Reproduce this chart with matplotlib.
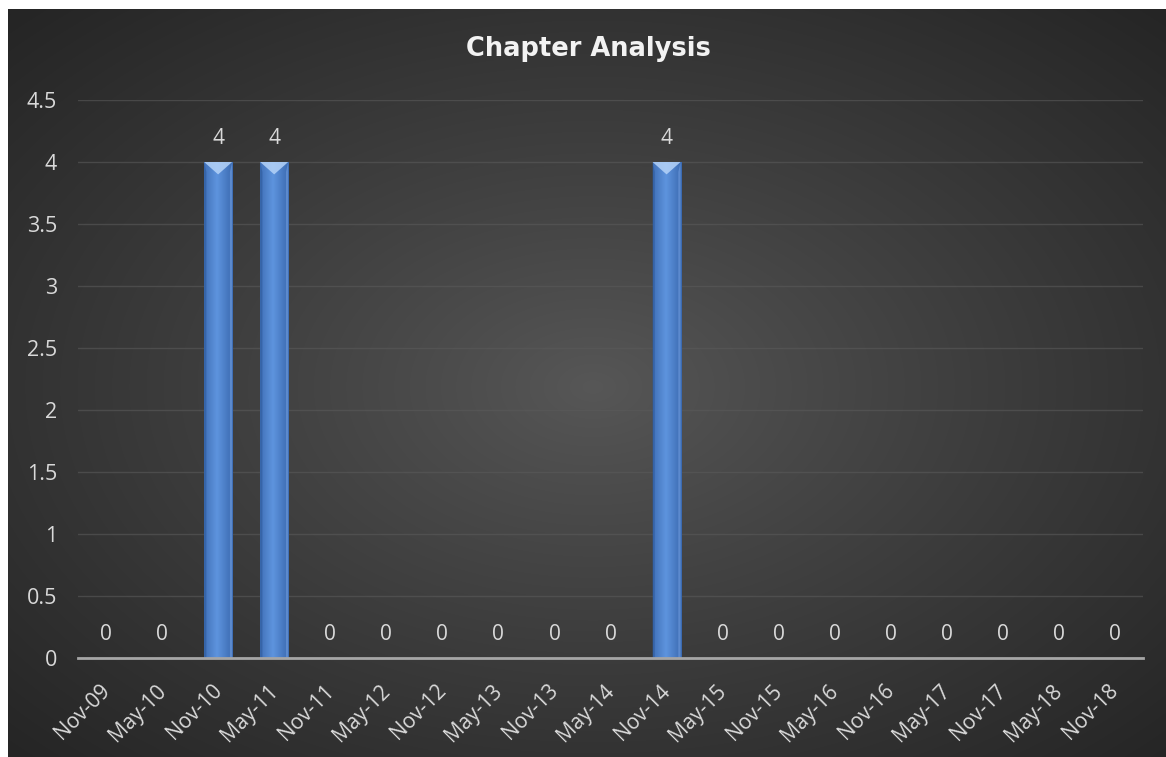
import numpy as np
import matplotlib
matplotlib.use("Agg")
import matplotlib.pyplot as plt
from matplotlib.patches import Polygon

# Chart data
categories = ["Nov-09", "May-10", "Nov-10", "May-11", "Nov-11", "May-12", "Nov-12",
              "May-13", "Nov-13", "May-14", "Nov-14", "May-15", "Nov-15", "May-16",
              "Nov-16", "May-17", "Nov-17", "May-18", "Nov-18"]
chapters = [0, 0, 4, 4, 0, 0, 0, 0, 0, 0, 4, 0, 0, 0, 0, 0, 0, 0, 0]
y_ticks = [0, 0.5, 1, 1.5, 2, 2.5, 3, 3.5, 4, 4.5]
title = "Chapter Analysis"

W, H = 1166, 757
fig = plt.figure(figsize=(W / 100, H / 100), dpi=100, facecolor="white")

# Dark panel with a soft radial glow
bg = fig.add_axes([8 / W, -0.01, 1 - 8 / W + 0.01, (H - 9) / H + 0.01])
bg.set_axis_off()
nx, ny = 600, 400
xx, yy = np.meshgrid(np.linspace(-1, 1, nx), np.linspace(-1, 1, ny))
r = np.sqrt(xx ** 2 + yy ** 2)
t = np.clip(r / 1.4, 0, 1) ** 0.9
inner = np.array([0x57, 0x57, 0x57]) / 255
outer = np.array([0x25, 0x25, 0x25]) / 255
img = inner[None, None, :] * (1 - t[..., None]) + outer[None, None, :] * t[..., None]
bg.imshow(img, aspect="auto", extent=[0, 1, 0, 1], interpolation="bilinear")
bg.set_xlim(0, 1)
bg.set_ylim(0, 1)

ax = fig.add_axes([78 / W, (H - 658) / H, (1143 - 78) / W, (658 - 100) / H])
ax.patch.set_alpha(0)

text_color = "#d9d9d9"
font = "Open Sans"
x = np.arange(len(categories))
bar_w = 0.5

bars = ax.bar(x, chapters, width=bar_w, color="#4f83d1", zorder=3, linewidth=0)

# Horizontal gradient + top bevel on each bar
grad = np.linspace(0, 1, 64)
prof = 1 - np.abs(grad - 0.45) * 1.6
col_dark = np.array([0x36, 0x64, 0xaa]) / 255
col_light = np.array([0x5e, 0x94, 0xde]) / 255
strip = col_dark[None, :] * (1 - prof[:, None]) + col_light[None, :] * prof[:, None]
strip = strip[None, :, :]
for b, v in zip(bars, chapters):
    if v <= 0:
        continue
    x0, w, h = b.get_x(), b.get_width(), b.get_height()
    im = ax.imshow(strip, aspect="auto", extent=[x0, x0 + w, 0, h],
                   interpolation="bilinear", zorder=3.1)
    im.set_clip_path(b)
    bev = 0.1
    tri = Polygon([[x0, h], [x0 + w, h], [x0 + w * 0.5, h - bev]], closed=True,
                  facecolor="#b5d3f8", edgecolor="none", alpha=0.85, zorder=3.2)
    ax.add_patch(tri)
    ax.add_patch(Polygon([[x0, h], [x0 + w * 0.08, h - bev * 0.8], [x0 + w * 0.08, 0], [x0, 0]],
                         closed=True, facecolor="#2e5a9c", edgecolor="none", alpha=0.6, zorder=3.2))
    ax.add_patch(Polygon([[x0 + w, h], [x0 + w * 0.92, h - bev * 0.8], [x0 + w * 0.92, 0], [x0 + w, 0]],
                         closed=True, facecolor="#7aa6e6", edgecolor="none", alpha=0.5, zorder=3.2))

# Value labels
for xi, v in zip(x, chapters):
    ax.annotate(f"{v:g}", (xi, v), xytext=(0, 17), textcoords="offset points",
                ha="center", va="center", color=text_color, fontsize=15, family=font)

ax.set_xlim(-0.5, len(categories) - 0.5)
ax.set_ylim(0, 4.5)
ax.set_yticks(y_ticks)
ax.set_yticklabels([f"{v:g}" for v in y_ticks])
ax.set_xticks(x)
ax.set_xticklabels([])

for lbl in ax.get_yticklabels():
    lbl.set_color(text_color)
    lbl.set_fontsize(15.5)
    lbl.set_family(font)

# Rotated category labels under each slot
for xi, cat in zip(x, categories):
    ax.annotate(cat, (xi, 0), xycoords=("data", "axes fraction"),
                xytext=(-5, -16), textcoords="offset points",
                rotation=45, ha="right", va="top", rotation_mode="anchor",
                color=text_color, fontsize=15, family=font, annotation_clip=False)

ax.tick_params(axis="both", length=0)
ax.tick_params(axis="y", pad=15)
ax.grid(axis="y", color="#5a5a5a", linewidth=1, alpha=0.6, zorder=0)
ax.set_axisbelow(True)
for s in ["top", "right", "left"]:
    ax.spines[s].set_visible(False)
ax.spines["bottom"].set_color("#a6a6a6")
ax.spines["bottom"].set_linewidth(2)
ax.spines["bottom"].set_zorder(4)

fig.text(588 / W, 1 - 49 / H, title, ha="center", va="center", color="#f2f2f2",
         fontsize=18.5, fontweight="bold", family="DejaVu Sans")

fig.savefig("out.png", dpi=100, facecolor="white")
